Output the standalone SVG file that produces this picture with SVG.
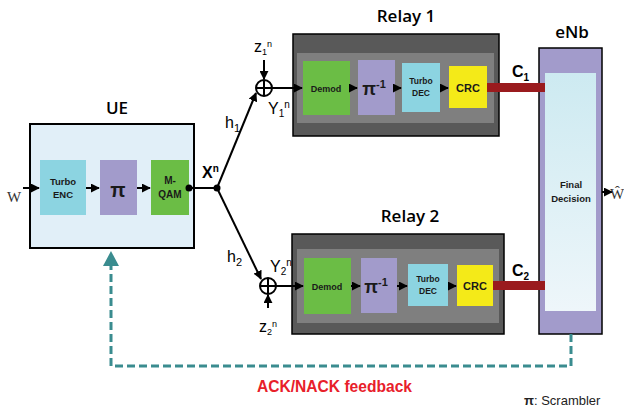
<svg xmlns="http://www.w3.org/2000/svg" width="624" height="412" viewBox="0 0 624 412">
<style>
.title{font-family:"Open Sans","Liberation Sans",sans-serif;font-weight:600;font-size:17px;fill:#000;text-anchor:middle}
.blk{font-family:"Liberation Sans",Arial,sans-serif;font-weight:bold;fill:#1a1a1a;text-anchor:middle}
.lbl{font-family:"Liberation Sans",Arial,sans-serif;font-size:16px;fill:#000}
.serif{font-family:"Liberation Serif","Times New Roman",serif;font-size:15px;fill:#333}
.ln{stroke:#000;stroke-width:2;fill:none}
.green{fill:#6BBD45}
.purple{fill:#A29BCB}
.cyan{fill:#8CD4E1}
.yellow{fill:#F4EA18}
.bar{fill:#9A1B1E}
</style>
<defs>
<marker id="ah" viewBox="0 0 10 10" refX="9" refY="5" markerWidth="4.5" markerHeight="4.5" orient="auto">
<path d="M0,0L10,5L0,10z" fill="#000"/>
</marker>
<linearGradient id="fd" x1="0" y1="0" x2="0" y2="1">
<stop offset="0" stop-color="#CDEAF1"/>
<stop offset="1" stop-color="#EEF6FA"/>
</linearGradient>
</defs>

<g id="ue">
<text x="117" y="114" class="title">UE</text>
<rect x="30" y="124" width="164" height="124" fill="#E1EFF8" stroke="#000" stroke-width="2"/>
</g>
<g id="turbo-enc">
<rect x="40" y="160" width="46" height="55" class="cyan"/>
<text x="63" y="185" class="blk" font-size="9.5">Turbo</text>
<text x="63" y="198" class="blk" font-size="9.5">ENC</text>
</g>
<g id="scrambler">
<rect x="100" y="160" width="37" height="55" class="purple"/>
<text x="118" y="197" class="blk" font-size="20" font-weight="normal" fill="#222">π</text>
</g>
<g id="mqam">
<rect x="151" y="160" width="38" height="55" class="green"/>
<text x="170" y="184" class="blk" font-size="10">M-</text>
<text x="170" y="198" class="blk" font-size="10">QAM</text>
</g>

<g id="relay1">
<text x="406" y="22" class="title">Relay 1</text>
<rect x="293" y="34" width="206" height="102" fill="#595959" stroke="#000" stroke-width="1.5"/>
<rect x="297" y="53" width="197" height="70" fill="#7F7F7F"/>
</g>
<g id="r1-demod"><rect x="303" y="61" width="47" height="54" class="green"/><text x="326" y="92" class="blk" font-size="9">Demod</text></g>
<g id="r1-descr"><rect x="358" y="60" width="37" height="55" class="purple"/><text x="374" y="95" class="blk" font-size="18" font-weight="normal" fill="#222">π<tspan font-size="11" dy="-7">-1</tspan></text></g>
<g id="r1-tdec"><rect x="402" y="63" width="38" height="49" class="cyan"/><text x="421" y="84" class="blk" font-size="8.5">Turbo</text><text x="421" y="96" class="blk" font-size="8.5">DEC</text></g>
<g id="r1-crc"><rect x="449" y="66" width="38" height="42" class="yellow"/><text x="468" y="92" class="blk" font-size="11">CRC</text></g>

<g id="relay2">
<text x="410" y="222" class="title">Relay 2</text>
<rect x="292" y="234" width="212" height="100" fill="#595959" stroke="#000" stroke-width="1.5"/>
<rect x="297" y="249" width="202" height="74" fill="#7F7F7F"/>
</g>
<g id="r2-demod"><rect x="304" y="258" width="47" height="56" class="green"/><text x="327" y="290" class="blk" font-size="9">Demod</text></g>
<g id="r2-descr"><rect x="361" y="258" width="36" height="55" class="purple"/><text x="376" y="293" class="blk" font-size="18" font-weight="normal" fill="#222">π<tspan font-size="11" dy="-7">-1</tspan></text></g>
<g id="r2-tdec"><rect x="408" y="264" width="40" height="42" class="cyan"/><text x="428" y="282" class="blk" font-size="8.5">Turbo</text><text x="428" y="294" class="blk" font-size="8.5">DEC</text></g>
<g id="r2-crc"><rect x="457" y="265" width="36" height="41" class="yellow"/><text x="475" y="290" class="blk" font-size="11">CRC</text></g>

<g id="enb">
<text x="572" y="38" class="title">eNb</text>
<rect x="539" y="48" width="63" height="286" class="purple" stroke="#000" stroke-width="1.5"/>
<rect x="545" y="73" width="51" height="238" fill="url(#fd)"/>
<text x="571" y="188" class="blk" font-size="9.5">Final</text>
<text x="571" y="202" class="blk" font-size="9.5">Decision</text>
</g>

<g id="sum1">
<circle cx="264" cy="88" r="8" fill="none" stroke="#000" stroke-width="2"/>
<path d="M256,88H272M264,80V96" stroke="#000" stroke-width="2"/>
</g>
<g id="sum2">
<circle cx="268" cy="286" r="8" fill="none" stroke="#000" stroke-width="2"/>
<path d="M260,286H276M268,278V294" stroke="#000" stroke-width="2"/>
</g>

<g id="connectors">
<line x1="23" y1="188" x2="39" y2="188" class="ln" marker-end="url(#ah)"/>
<line x1="86" y1="188" x2="99" y2="188" class="ln" marker-end="url(#ah)"/>
<line x1="137" y1="188" x2="150" y2="188" class="ln" marker-end="url(#ah)"/>
<line x1="189" y1="188" x2="217" y2="188" class="ln"/>
<circle cx="189" cy="188" r="3.5" fill="#000"/>
<circle cx="217" cy="188" r="3.5" fill="#000"/>
<line x1="217" y1="188" x2="256" y2="93" class="ln" marker-end="url(#ah)"/>
<line x1="217" y1="188" x2="261" y2="279" class="ln" marker-end="url(#ah)"/>
<line x1="264" y1="60" x2="264" y2="79" class="ln" marker-end="url(#ah)"/>
<line x1="272" y1="88" x2="302" y2="88" class="ln" marker-end="url(#ah)"/>
<line x1="268" y1="308" x2="268" y2="295" class="ln" marker-end="url(#ah)"/>
<line x1="276" y1="286" x2="303" y2="286" class="ln" marker-end="url(#ah)"/>
<line x1="350" y1="88" x2="357" y2="88" class="ln" marker-end="url(#ah)"/>
<line x1="395" y1="88" x2="401" y2="88" class="ln" marker-end="url(#ah)"/>
<line x1="440" y1="88" x2="448" y2="88" class="ln" marker-end="url(#ah)"/>
<line x1="351" y1="286" x2="360" y2="286" class="ln" marker-end="url(#ah)"/>
<line x1="397" y1="286" x2="407" y2="286" class="ln" marker-end="url(#ah)"/>
<line x1="448" y1="286" x2="456" y2="286" class="ln" marker-end="url(#ah)"/>
<rect x="487" y="83" width="58" height="9" class="bar"/>
<rect x="493" y="281" width="52" height="9" class="bar"/>
<line x1="602" y1="192" x2="612" y2="192" class="ln" marker-end="url(#ah)"/>
<path d="M571,334 V366 H111 V266" fill="none" stroke="#3A8C8F" stroke-width="3" stroke-dasharray="8,4"/>
<path d="M103,266 L111,251 L119,266 z" fill="#3A8C8F"/>
</g>

<g id="labels">
<text x="7" y="202" class="serif">W</text>
<text x="202" y="178" class="lbl" font-weight="bold" font-size="15">X<tspan font-size="10" dy="-6">n</tspan></text>
<text x="225" y="128" class="lbl" font-size="17">h<tspan font-size="11" dy="4">1</tspan></text>
<text x="227" y="262" class="lbl" font-size="17">h<tspan font-size="11" dy="4">2</tspan></text>
<text x="254" y="52" class="lbl" font-size="13">z<tspan font-size="9" dy="3">1</tspan><tspan font-size="9" dy="-8">n</tspan></text>
<text x="268" y="114" class="lbl" font-size="14">Y<tspan font-size="10" dy="3">1</tspan><tspan font-size="10" dy="-9">n</tspan></text>
<text x="270" y="272" class="lbl" font-size="14">Y<tspan font-size="10" dy="3">2</tspan><tspan font-size="10" dy="-9">n</tspan></text>
<text x="259" y="332" class="lbl" font-size="13">z<tspan font-size="9" dy="3">2</tspan><tspan font-size="9" dy="-8">n</tspan></text>
<text x="512" y="77" class="lbl" font-weight="bold" font-size="16">C<tspan font-size="10" dy="4">1</tspan></text>
<text x="512" y="276" class="lbl" font-weight="bold" font-size="16">C<tspan font-size="10" dy="4">2</tspan></text>
<text x="610" y="199" class="serif" font-size="13">Ŵ</text>
<text x="257" y="392" font-family="Liberation Sans,sans-serif" font-weight="bold" font-size="17" fill="#E8202A" textLength="155" lengthAdjust="spacingAndGlyphs">ACK/NACK feedback</text>
<text x="524" y="405" font-family="Liberation Sans,sans-serif" font-size="13" fill="#222"><tspan font-weight="bold">π</tspan>: Scrambler</text>
</g>
</svg>
